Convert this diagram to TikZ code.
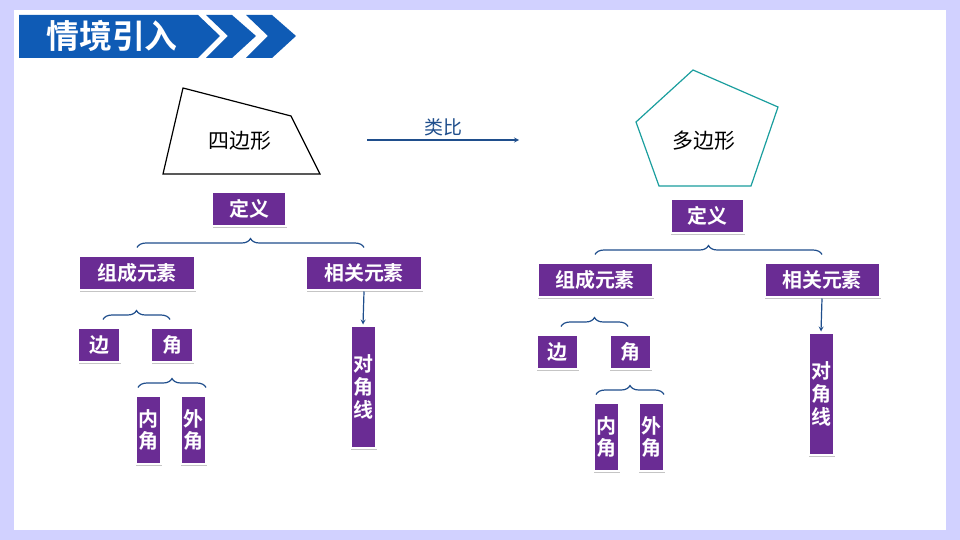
\documentclass[tikz,border=0pt]{standalone}
\usepackage{fontspec}
\setmainfont{Noto Sans CJK SC}
\newfontfamily\cjkb{Noto Sans CJK SC Bold}
\usetikzlibrary{positioning,shadows,decorations.pathreplacing,calc}
\definecolor{boxpurple}{HTML}{6A2C94}
\definecolor{navy}{HTML}{1F4E8C}
\definecolor{banner}{HTML}{0F5BB5}
\definecolor{teal}{HTML}{1A9E9E}
\tikzset{
  box/.style={fill=boxpurple,draw=white,line width=3pt,text=white,font=\cjkb\fontsize{20}{23}\selectfont,
    drop shadow={shadow xshift=1pt,shadow yshift=-2pt,opacity=0.45},inner sep=3pt,minimum height=34bp},
  vbox/.style={box,align=center,inner sep=2pt,text width=22bp},
  brc/.style={draw=navy,line width=1.2pt,decorate,decoration={brace,amplitude=9pt}},
  link/.style={draw=navy,line width=1.2pt,-stealth}
}
\newcommand\tree[1]{%
\begin{scope}[shift={#1}]
  \node[box,minimum width=74bp] (def) at (249,209) {定义};
  \node[box,minimum width=116bp] (zc) at (137,273) {组成元素};
  \node[box,minimum width=116bp] (xg) at (364,273) {相关元素};
  \node[box,minimum width=42bp] (bian) at (99,345) {边};
  \node[box,minimum width=42bp] (jiao) at (172,345) {角};
  \node[vbox,minimum height=68bp] (nj) at (148,430) {内\\角};
  \node[vbox,minimum height=68bp] (wj) at (193,430) {外\\角};
  \node[vbox,minimum height=122bp] (dj) at (363,387) {对\\角\\线};
  \draw[brc] ($(zc.north)+(0,-7)$) -- ($(xg.north)+(0,-7)$);
  \draw[brc] ($(bian.north)+(4,-7)$) -- ($(jiao.north)+(-2,-7)$);
  \draw[brc] ($(nj.north)+(-10,-7)$) -- ($(wj.north)+(13,-7)$);
  \draw[link] (xg.south) -- (dj.north);
\end{scope}}
\begin{document}
\begin{tikzpicture}[x=1bp,y=-1bp]
  \useasboundingbox (0,0) rectangle (960,540);
  % background frame
  \fill[blue!18] (0,0) rectangle (960,540);
  \fill[white] (14,10) rectangle (946,530);
  % title banner
  \fill[banner] (19,15) -- (198,15) -- (220,36) -- (198,58) -- (19,58) -- cycle;
  \fill[banner] (206,15) -- (232,15) -- (256,36) -- (232,58) -- (206,58) -- (228,36) -- cycle;
  \fill[banner] (246,15) -- (272,15) -- (296,36) -- (272,58) -- (246,58) -- (268,36) -- cycle;
  \node[text=white,font=\cjkb\fontsize{33}{36}\selectfont] (title) at (112,36) {情境引入};
  % shapes
  \draw[line width=1.2pt] (183,88) -- (291,116) -- (320,174) -- (163,174) -- cycle;
  \node[font=\fontsize{21}{24}\selectfont] (four) at (240,141) {四边形};
  \draw[teal,line width=1.2pt] (693,70) -- (778,107) -- (751,186) -- (659,186) -- (636,122) -- cycle;
  \node[font=\fontsize{21}{24}\selectfont] (many) at (704,141) {多边形};
  \coordinate (a1) at (367,140);
  \coordinate (a2) at (519,140);
  \draw[link] (a1) -- (a2) node[midway,above,text=navy,font=\fontsize{19}{22}\selectfont] {类比};
  % trees
  \tree{(0,0)}
  \tree{(458,7)}
\end{tikzpicture}
\end{document}
